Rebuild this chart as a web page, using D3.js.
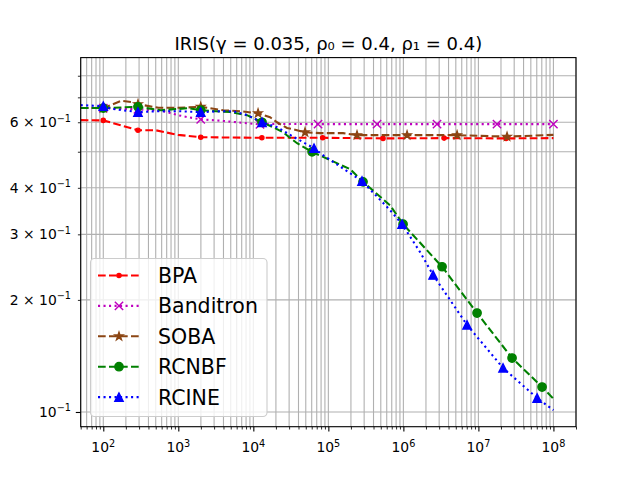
<!DOCTYPE html>
<html>
<head>
<meta charset="utf-8">
<script src="https://cdn.jsdelivr.net/npm/d3@7/dist/d3.min.js"></script>
<style>
body { margin: 0; background: #fff; }
text { font-family: "DejaVu Sans", sans-serif; }
</style>
</head>
<body>
<div id="chart"></div>
<script>
// ---- data ----
var titleText = "IRIS(γ = 0.035, ρ₀ = 0.4, ρ₁ = 0.4)";
var seriesNames = ["BPA", "Banditron", "SOBA", "RCNBF", "RCINE"];

var xMajorTicks = [1e2, 1e3, 1e4, 1e5, 1e6, 1e7, 1e8];
var yLabelledTicks = [0.1, 0.2, 0.3, 0.4, 0.6];

var bpaX = [50, 100, 290, 500, 990, 1990, 13000, 84000, 536000, 3.49e6, 2.34e7, 1e8];
var bpaY = [0.608, 0.607, 0.571, 0.571, 0.555, 0.547, 0.545, 0.545, 0.543, 0.544, 0.543, 0.544];
var bpaMarks = [1, 2, 5, 6, 7, 8, 9, 10];

var banditronX = [50, 100, 290, 589, 990, 1346, 1990, 3950, 12270, 20700, 72900, 446000, 2.81e6, 1.77e7, 1e8];
var banditronY = [0.655, 0.655, 0.65, 0.645, 0.627, 0.619, 0.611, 0.605, 0.592, 0.594, 0.593, 0.593, 0.593, 0.593, 0.593];
var banditronMarks = [1, 2, 6, 8, 10, 11, 12, 13, 14];

var sobaX = [50, 100, 174, 237, 290, 546, 990, 1990, 3950, 6650, 11560, 16700, 20700, 28100, 33800, 48900, 77500, 157000, 241000, 1.12e6, 5.2e6, 2.41e7, 1e8];
var sobaY = [0.655, 0.655, 0.685, 0.68, 0.671, 0.656, 0.656, 0.66, 0.6465, 0.6425, 0.6345, 0.619, 0.6, 0.579, 0.575, 0.564, 0.561, 0.561, 0.554, 0.554, 0.554, 0.549, 0.555];
var sobaMarks = [1, 4, 7, 10, 15, 18, 19, 20, 21];

var rcnbfX = [50, 100, 290, 589, 1346, 1990, 4890, 8240, 13060, 18300, 24900, 38300, 60700, 195000, 290000, 665000, 991000, 3.28e6, 9.6e6, 2.81e7, 7.06e7, 1e8];
var rcnbfY = [0.655, 0.655, 0.66, 0.6465, 0.6545, 0.6465, 0.639, 0.627, 0.6, 0.582, 0.564, 0.527, 0.4996, 0.449, 0.415, 0.359, 0.3195, 0.2455, 0.1844, 0.1396, 0.1167, 0.1085];
var rcnbfMarks = [1, 2, 5, 8, 12, 14, 16, 17, 18, 19, 20];

var rcineX = [50, 100, 127, 290, 546, 990, 1990, 3950, 5360, 8240, 13060, 20700, 33800, 64400, 84900, 281000, 665000, 961000, 1.67e6, 2.49e6, 7.06e6, 2.13e7, 6.07e7, 1e8];
var rcineY = [0.667, 0.663, 0.652, 0.639, 0.6425, 0.6425, 0.639, 0.6425, 0.6425, 0.627, 0.6, 0.582, 0.549, 0.511, 0.4895, 0.417, 0.3484, 0.3195, 0.2688, 0.2333, 0.1713, 0.1313, 0.109, 0.1012];
var rcineMarks = [1, 3, 6, 10, 13, 15, 17, 19, 20, 21, 22];

// ---- styles ----
var lw = 2.08;
var styles = [
    {color: "#ff0000", dash: "7.7,3.3", marker: "point"},
    {color: "#bf00bf", dash: "2.08,3.43", marker: "x"},
    {color: "#8b4513", dash: "7.7,3.3", marker: "star"},
    {color: "#008000", dash: "7.7,3.3", marker: "circle"},
    {color: "#0000ff", dash: "2.08,3.43", marker: "triangle"}
];

var series = [
    {x: bpaX, y: bpaY, marks: bpaMarks},
    {x: banditronX, y: banditronY, marks: banditronMarks},
    {x: sobaX, y: sobaY, marks: sobaMarks},
    {x: rcnbfX, y: rcnbfY, marks: rcnbfMarks},
    {x: rcineX, y: rcineY, marks: rcineMarks}
];

var width = 640, height = 480;
var margin = {left: 80.7, right: 64, top: 57.6, bottom: 53.3};
var plotW = width - margin.left - margin.right;
var plotH = height - margin.top - margin.bottom;

var svg = d3.select("#chart").append("svg")
    .attr("width", width)
    .attr("height", height);

var x = d3.scaleLog().domain([50, 2.0e8]).range([margin.left, margin.left + plotW]);
var y = d3.scaleLog().domain([0.0913, 0.895]).range([margin.top + plotH, margin.top]);

// minor + major tick values
function logTicks(lo, hi) {
    var out = [];
    for (var e = Math.floor(Math.log10(lo)); e <= Math.ceil(Math.log10(hi)); e++) {
        for (var k = 1; k < 10; k++) {
            var v = k * Math.pow(10, e);
            if (v >= lo * 0.9999 && v <= hi * 1.0001) out.push(v);
        }
    }
    return out;
}
var xAll = logTicks(50, 2.0e8);
var yAll = logTicks(0.0913, 0.895);
function isMajor(v) { var l = Math.log10(v); return Math.abs(l - Math.round(l)) < 1e-9; }

// grid, both major and minor
var grid = svg.append("g").attr("stroke", "#b0b0b0").attr("stroke-width", 1.1);
grid.selectAll(".gx").data(xAll).enter().append("line")
    .attr("x1", function(d){ return x(d); }).attr("x2", function(d){ return x(d); })
    .attr("y1", margin.top).attr("y2", margin.top + plotH);
grid.selectAll(".gy").data(yAll).enter().append("line")
    .attr("y1", function(d){ return y(d); }).attr("y2", function(d){ return y(d); })
    .attr("x1", margin.left).attr("x2", margin.left + plotW);

// axes (ticks only, labels drawn below with superscripts)
var xAxisMajor = d3.axisBottom(x).tickValues(xAll.filter(isMajor)).tickSize(4.9).tickSizeOuter(0).tickFormat("");
var xAxisMinor = d3.axisBottom(x).tickValues(xAll.filter(function(d){ return !isMajor(d); })).tickSize(2.8).tickSizeOuter(0).tickFormat("");
var yAxisMajor = d3.axisLeft(y).tickValues(yAll.filter(isMajor)).tickSize(4.9).tickSizeOuter(0).tickFormat("");
var yAxisMinor = d3.axisLeft(y).tickValues(yAll.filter(function(d){ return !isMajor(d); })).tickSize(2.8).tickSizeOuter(0).tickFormat("");

[xAxisMajor, xAxisMinor].forEach(function(ax, i){
    var g = svg.append("g").attr("transform", "translate(0," + (margin.top + plotH) + ")").call(ax);
    g.select(".domain").remove();
    g.selectAll("line").attr("stroke", "#000").attr("stroke-width", i == 0 ? 1.1 : 0.83);
});
[yAxisMajor, yAxisMinor].forEach(function(ax, i){
    var g = svg.append("g").attr("transform", "translate(" + margin.left + ",0)").call(ax);
    g.select(".domain").remove();
    g.selectAll("line").attr("stroke", "#000").attr("stroke-width", i == 0 ? 1.1 : 0.83);
});

// x tick labels 10^n
xMajorTicks.forEach(function(v){
    var t = svg.append("text")
        .attr("x", x(v)).attr("y", 452)
        .attr("text-anchor", "middle")
        .attr("font-size", 13.9);
    t.append("tspan").text("10");
    t.append("tspan").attr("dy", -5.5).attr("font-size", 9.7).text(Math.round(Math.log10(v)));
});

// y tick labels
yLabelledTicks.forEach(function(v){
    var e = Math.floor(Math.log10(v) + 1e-9);
    var m = Math.round(v / Math.pow(10, e));
    var t = svg.append("text")
        .attr("x", 71).attr("y", y(v) + 5)
        .attr("text-anchor", "end")
        .attr("font-size", 13.9);
    t.append("tspan").text(m == 1 ? "10" : m + " × 10");
    t.append("tspan").attr("dy", -5.5).attr("font-size", 9.7).text("\u2212" + Math.abs(e));
});

// clip
svg.append("clipPath").attr("id", "clip").append("rect")
    .attr("x", margin.left).attr("y", margin.top).attr("width", plotW).attr("height", plotH);

function drawMarker(g, kind, cx, cy, color) {
    var s = 4.17;
    if (kind == "point") {
        g.append("circle").attr("cx", cx).attr("cy", cy).attr("r", 2.1)
            .attr("fill", color).attr("stroke", color).attr("stroke-width", 1.39);
    } else if (kind == "circle") {
        g.append("circle").attr("cx", cx).attr("cy", cy).attr("r", s)
            .attr("fill", color).attr("stroke", color).attr("stroke-width", 1.39);
    } else if (kind == "x") {
        g.append("path")
            .attr("d", "M" + (cx - s) + "," + (cy - s) + "L" + (cx + s) + "," + (cy + s) +
                       "M" + (cx - s) + "," + (cy + s) + "L" + (cx + s) + "," + (cy - s))
            .attr("stroke", color).attr("stroke-width", 1.39).attr("fill", "none");
    } else if (kind == "triangle") {
        g.append("path")
            .attr("d", "M" + cx + "," + (cy - s) + "L" + (cx - s) + "," + (cy + s) + "L" + (cx + s) + "," + (cy + s) + "Z")
            .attr("fill", color).attr("stroke", color).attr("stroke-width", 1.39);
    } else if (kind == "star") {
        var pts = [];
        for (var i = 0; i < 10; i++) {
            var r = i % 2 == 0 ? s : s * 0.382;
            var a = -Math.PI / 2 + i * Math.PI / 5;
            pts.push([cx + r * Math.cos(a), cy + r * Math.sin(a)]);
        }
        g.append("path").attr("d", "M" + pts.join("L") + "Z")
            .attr("fill", color).attr("stroke", color).attr("stroke-width", 1.39);
    }
}

var line = d3.line().x(function(d){ return x(d[0]); }).y(function(d){ return y(d[1]); });
var plot = svg.append("g").attr("clip-path", "url(#clip)");

series.forEach(function(s, i){
    var st = styles[i];
    var pts = s.x.map(function(v, j){ return [v, s.y[j]]; });
    var g = plot.append("g");
    g.append("path").datum(pts)
        .attr("d", line)
        .attr("fill", "none")
        .attr("stroke", st.color)
        .attr("stroke-width", lw)
        .attr("stroke-dasharray", st.dash);
    s.marks.forEach(function(j){
        drawMarker(g, st.marker, x(s.x[j]), y(s.y[j]), st.color);
    });
});

// spines
svg.append("rect")
    .attr("x", margin.left).attr("y", margin.top).attr("width", plotW).attr("height", plotH)
    .attr("fill", "none").attr("stroke", "#000").attr("stroke-width", 1.1);

// title
svg.append("text")
    .attr("x", margin.left + plotW / 2).attr("y", 50)
    .attr("text-anchor", "middle")
    .attr("font-size", 18)
    .text(titleText);

// legend
var leg = svg.append("g");
leg.append("rect")
    .attr("x", 90.5).attr("y", 258.5).attr("width", 176.5).attr("height", 158)
    .attr("rx", 4).attr("ry", 4)
    .attr("fill", "#fff").attr("fill-opacity", 0.8)
    .attr("stroke", "#cccccc").attr("stroke-width", 1.1);
seriesNames.forEach(function(name, i){
    var cy = 275.5 + i * 30.4;
    var st = styles[i];
    leg.append("line")
        .attr("x1", 98).attr("x2", 140).attr("y1", cy).attr("y2", cy)
        .attr("stroke", st.color).attr("stroke-width", lw)
        .attr("stroke-dasharray", st.dash);
    drawMarker(leg, st.marker, 119, cy, st.color);
    leg.append("text")
        .attr("x", 158).attr("y", cy + 7.5)
        .attr("font-size", 20.5)
        .text(name);
});
</script>
</body>
</html>
